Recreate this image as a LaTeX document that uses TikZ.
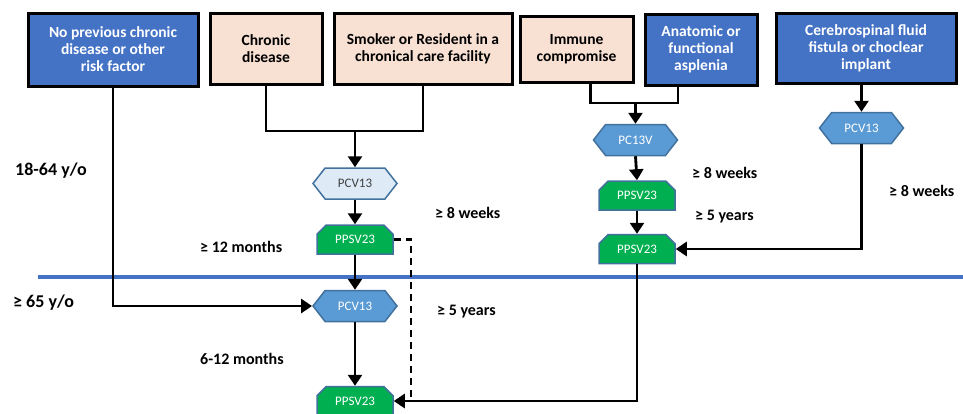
\documentclass[tikz,border=0pt]{standalone}
\usepackage{fontspec}
\setmainfont{Carlito}
\usetikzlibrary{arrows.meta,shapes.symbols,shapes.misc}
\definecolor{dblue}{HTML}{4472C4}
\definecolor{peach}{HTML}{F8E0D3}
\definecolor{mblue}{HTML}{5B9BD5}
\definecolor{lblue}{HTML}{DEEBF7}
\definecolor{bord}{HTML}{41719C}
\definecolor{vgreen}{HTML}{00B050}
\begin{document}
\begin{tikzpicture}[x=1pt,y=1pt,
  box/.style={draw=black,line width=3pt,align=center,inner sep=0pt,
    font=\fontsize{15.5}{17}\selectfont\bfseries},
  riskbox/.style={box,fill=dblue,text=white},
  chronbox/.style={box,fill=peach,text=black},
  hexa/.style={signal,signal to=east and west,signal pointer angle=104,
    draw=bord,line width=1.5pt,minimum width=84pt,minimum height=31pt,
    inner sep=0pt,font=\fontsize{13}{15}\selectfont},
  hexd/.style={hexa,fill=mblue,text=white},
  hexl/.style={hexa,fill=lblue,text=black!75},
  ppsv/.style={chamfered rectangle,chamfered rectangle corners={north east,north west},
    chamfered rectangle xsep=5pt,chamfered rectangle ysep=5pt,
    draw=bord,line width=1.5pt,fill=vgreen,text=white,minimum width=76pt,
    minimum height=29pt,inner sep=0pt,font=\fontsize{13}{15}\selectfont},
  lab/.style={anchor=west,inner sep=0pt,font=\fontsize{16}{18}\selectfont\bfseries},
  biglab/.style={lab,font=\fontsize{18}{20}\selectfont\bfseries},
  conn/.style={line width=2.8pt,line join=miter},
  arr/.style={conn,-{Triangle[width=14pt,length=11pt]}},
]
\useasboundingbox (0,0) rectangle (963,-413);

% boxes
\node[riskbox,minimum width=170pt,minimum height=73pt] (b1) at (113,-49.5)
  {No previous chronic\\disease or other\\risk factor};
\node[chronbox,minimum width=112pt,minimum height=71pt] (b2) at (266,-48.5)
  {Chronic\\disease};
\node[chronbox,minimum width=178pt,minimum height=71pt] (b3) at (423,-48.5)
  {Smoker or Resident in a\\chronical care facility};
\node[chronbox,minimum width=113pt,minimum height=66pt] (b4) at (576.5,-49)
  {Immune\\compromise};
\node[riskbox,minimum width=112pt,minimum height=71pt] (b5) at (701,-49.5)
  {Anatomic or\\functional\\asplenia};
\node[riskbox,minimum width=180pt,minimum height=70pt] (b6) at (866,-48)
  {Cerebrospinal fluid\\fistula or choclear\\implant};

% separator line
\draw[dblue,line width=4pt] (38,-277) -- (963,-277);

% vaccine nodes
\node[hexl] (pcv1) at (355,-183.5) {PCV13};
\node[ppsv] (pp2) at (355,-239.5) {PPSV23};
\node[hexd] (pcv2) at (355,-306) {PCV13};
\node[ppsv] (pp5) at (355,-401) {PPSV23};
\node[hexd] (pc13v) at (635.5,-140) {PC13V};
\node[ppsv] (pp3) at (637,-195.5) {PPSV23};
\node[ppsv] (pp4) at (637,-249) {PPSV23};
\node[hexd] (pcv3) at (861.5,-128) {PCV13};

% junctions
\coordinate (j1) at (355,-131);
\coordinate (j2) at (635.5,-103);
\coordinate (d1) at (411,-401);

% connectors
\draw[arr] (b1.south) |- (pcv2.west);
\draw[conn] (b2.south) |- (j1) -| (b3.south);
\draw[arr] (j1) -- (pcv1.north);
\draw[arr] (pcv1.south) -- (pp2.north);
\draw[arr] (pp2.south) -- (pcv2.north);
\draw[arr] (pcv2.south) -- (pp5.north);
\draw[conn] ([xshift=14pt]b4.south) |- (j2) -| ([xshift=-23pt]b5.south);
\draw[arr] (j2) -- (pc13v.north);
\draw[arr] (pc13v.south) -- (pp3.north);
\draw[arr] (pp3.south) -- (pp4.north);
\draw[arr] (b6.south -| pcv3.north) -- (pcv3.north);
\draw[arr] (pcv3.south) |- (pp4.east);
\draw[arr] (pp4.south) |- (pp5.east);
\draw[conn,dash pattern=on 7pt off 5pt] (pp2.east) -| (d1);

% labels
\node[biglab] (l1) at (15,-171) {18-64 y/o};
\node[biglab] (l2) at (13,-303) {≥ 65 y/o};
\node[lab] (l3) at (200,-247) {≥ 12 months};
\node[lab] (l4) at (435,-213) {≥ 8 weeks};
\node[lab] (l5) at (437,-312) {≥ 5 years};
\node[lab] (l6) at (200,-359) {6-12 months};
\node[lab] (l7) at (692,-173) {≥ 8 weeks};
\node[lab] (l8) at (695,-217) {≥ 5 years};
\node[lab] (l9) at (889,-191) {≥ 8 weeks};
\end{tikzpicture}
\end{document}
